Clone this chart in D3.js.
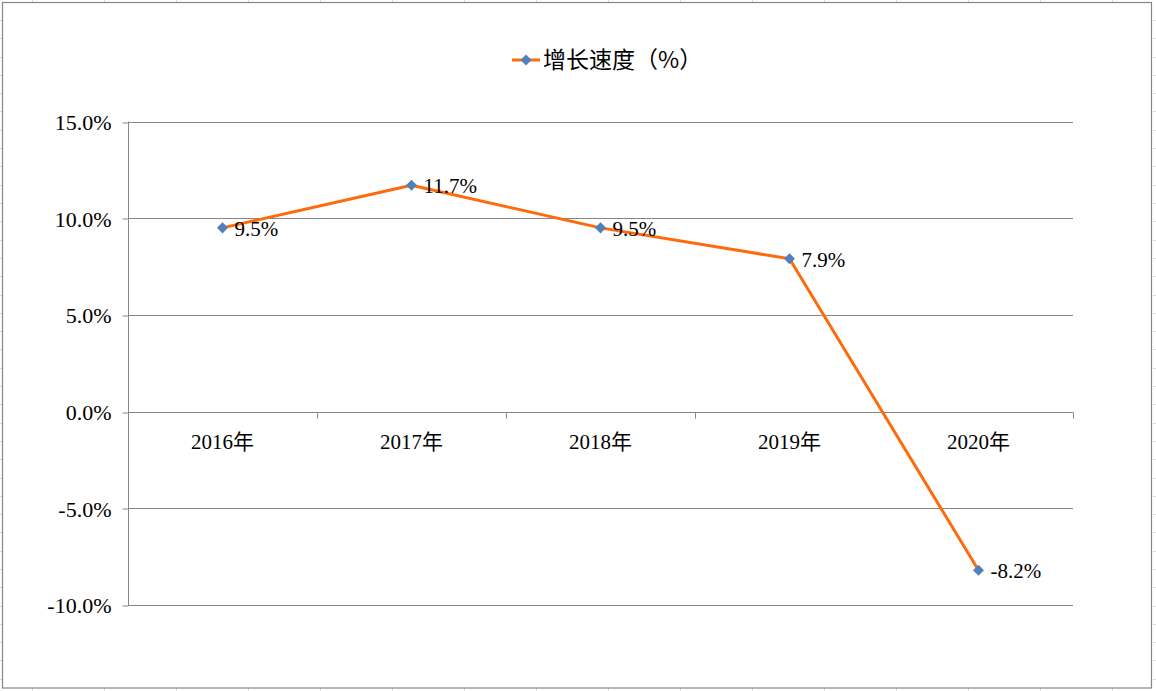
<!DOCTYPE html>
<html>
<head>
<meta charset="utf-8">
<script src="https://cdn.jsdelivr.net/npm/d3@7"></script>
<style>
  html, body { margin: 0; padding: 0; background: #fff; }
  svg { display: block; }
</style>
</head>
<body>
<svg id="viz" width="1156" height="691"></svg>
<script>
const categories = ['2016年', '2017年', '2018年', '2019年', '2020年'];
const growth = [9.5, 11.7, 9.5, 7.9, -8.2];
const yTicks = [-10, -5, 0, 5, 10, 15];
const seriesName = '增长速度（%）';

(() => {
  const svg = d3.select('#viz');
  const W = 1156, H = 691;
  const SERIF = '"Liberation Serif", "Times New Roman", serif';
  const pct = (d) => d.toFixed(1) + '%';

  // spreadsheet cells peeking around the chart frame
  const cells = svg.append('g').attr('stroke', '#d9d9d9').attr('stroke-width', 1);
  for (let x = 32; x < W; x += 72) {
    cells.append('line').attr('x1', x + 0.5).attr('x2', x + 0.5).attr('y1', 0).attr('y2', 3);
    cells.append('line').attr('x1', x + 0.5).attr('x2', x + 0.5).attr('y1', H - 3).attr('y2', H);
  }
  for (let y = 20; y < H; y += 18.3) {
    cells.append('line').attr('x1', 0).attr('x2', 2).attr('y1', Math.round(y) + 0.5).attr('y2', Math.round(y) + 0.5);
    cells.append('line').attr('x1', W - 3).attr('x2', W).attr('y1', Math.round(y) + 0.5).attr('y2', Math.round(y) + 0.5);
  }

  // chart frame
  svg.append('rect')
    .attr('x', 2.5).attr('y', 2.5)
    .attr('width', 1149).attr('height', 685.5)
    .attr('fill', '#fff').attr('stroke', '#868686').attr('stroke-width', 1.2);

  const left = 128, right = 1073, top = 121.5, bottom = 605;

  const x = d3.scaleBand().domain(categories).range([left, right]);
  const y = d3.scaleLinear().domain([-10, 15]).range([bottom, top]);

  const g = svg.append('g');

  // horizontal gridlines
  g.selectAll('line.grid')
    .data(yTicks)
    .join('line')
    .attr('class', 'grid')
    .attr('x1', left).attr('x2', right)
    .attr('y1', (d) => Math.round(y(d)) + 0.5)
    .attr('y2', (d) => Math.round(y(d)) + 0.5)
    .attr('stroke', '#868686').attr('stroke-width', 1);

  // y axis
  const yAxis = g.append('g')
    .attr('transform', `translate(${left + 0.5},0)`)
    .call(d3.axisLeft(y).tickValues(yTicks).tickSize(6).tickPadding(11).tickFormat(pct));
  yAxis.attr('font-family', SERIF).attr('font-size', 22);
  yAxis.select('.domain').attr('stroke', '#868686').attr('d', `M0,${top}V${bottom}`);
  yAxis.selectAll('.tick line').attr('stroke', '#868686')
    .attr('transform', (d) => `translate(0,${Math.round(y(d)) + 0.5 - y(d)})`);
  yAxis.selectAll('.tick text').attr('fill', '#000').attr('dy', '0.36em');

  // x axis on zero line
  const y0 = Math.round(y(0)) + 0.5;
  const xAxis = g.append('g').attr('transform', `translate(0,${y0})`);
  const boundaries = categories.map((c) => x(c) + x.bandwidth()).concat([left]);
  xAxis.selectAll('line.tick')
    .data(boundaries)
    .join('line')
    .attr('x1', (d) => Math.round(d) + 0.5).attr('x2', (d) => Math.round(d) + 0.5)
    .attr('y1', 0).attr('y2', 6)
    .attr('stroke', '#868686');
  xAxis.selectAll('text')
    .data(categories)
    .join('text')
    .attr('x', (d) => x(d) + x.bandwidth() / 2)
    .attr('y', 36)
    .attr('text-anchor', 'middle')
    .attr('font-family', '"Liberation Serif", "Noto Sans CJK SC", serif')
    .attr('font-size', 21)
    .text((d) => d);

  const cx = (i) => x(categories[i]) + x.bandwidth() / 2;

  // series line
  g.append('path')
    .datum(growth)
    .attr('fill', 'none')
    .attr('stroke', '#ff6a0c')
    .attr('stroke-width', 3)
    .attr('stroke-linejoin', 'round')
    .attr('d', d3.line().x((d, i) => cx(i)).y((d) => y(d)));

  // markers
  const diamond = d3.symbol().type(d3.symbolDiamond2).size(78);
  g.selectAll('path.marker')
    .data(growth)
    .join('path')
    .attr('class', 'marker')
    .attr('transform', (d, i) => `translate(${cx(i)},${y(d)})`)
    .attr('d', diamond)
    .attr('fill', '#4f81bd');

  // data labels
  g.selectAll('text.label')
    .data(growth)
    .join('text')
    .attr('class', 'label')
    .attr('x', (d, i) => cx(i) + 12)
    .attr('y', (d) => y(d) + 8)
    .attr('font-family', SERIF)
    .attr('font-size', 21)
    .attr('fill', '#000')
    .text(pct);

  // legend
  const lg = svg.append('g').attr('transform', 'translate(512,60)');
  lg.append('line').attr('x1', 0).attr('x2', 28).attr('y1', 0).attr('y2', 0)
    .attr('stroke', '#ff6a0c').attr('stroke-width', 3);
  lg.append('path').attr('transform', 'translate(14,0)').attr('d', diamond).attr('fill', '#4f81bd');
  lg.append('text')
    .attr('x', 31).attr('y', 8)
    .attr('font-family', '"Noto Sans CJK SC", sans-serif')
    .attr('font-size', 23)
    .attr('fill', '#000')
    .text(seriesName);
})();
</script>
</body>
</html>
